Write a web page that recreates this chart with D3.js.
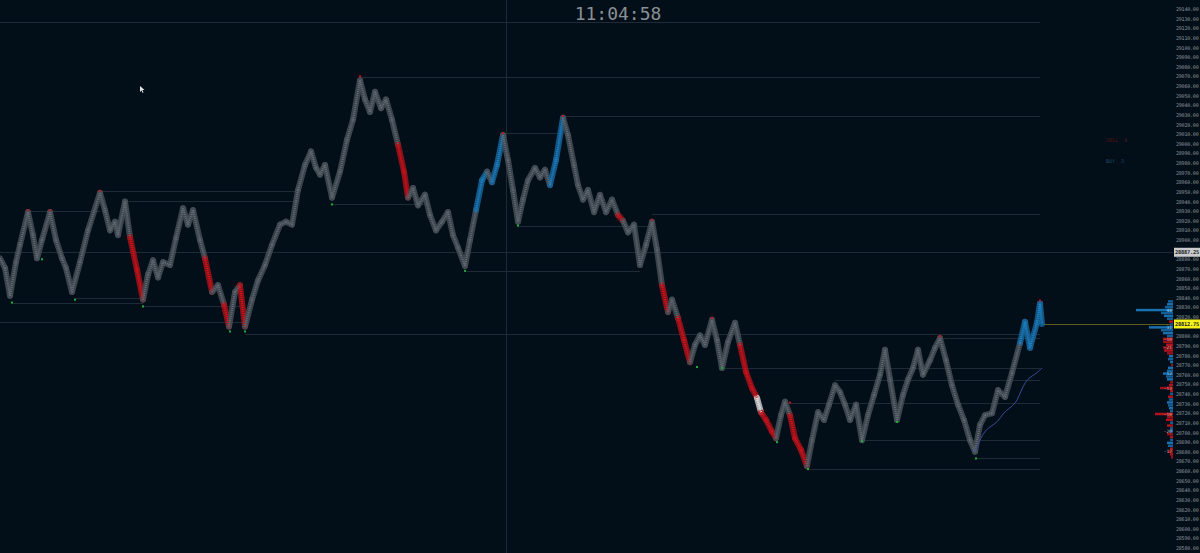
<!DOCTYPE html>
<html>
<head>
<meta charset="utf-8">
<script src="https://cdn.jsdelivr.net/npm/d3@7"></script>
<style>
  body { margin: 0; background: #020f18; overflow: hidden; }
  svg { display: block; }
  .axis text { font-family: "DejaVu Sans Mono", monospace; font-size: 5px; letter-spacing: -0.2px; fill: #8b9299; }
</style>
</head>
<body>
<script>
/* price path: [bar, price, tone] (g=neutral, r=sell run, b=buy run, w=flash) */
const pricePath = [
  [0,28881,"g"],[5,28871,"g"],[10,28842,"g"],[16,28877,"g"],[20,28895,"g"],[28,28929,"g"],[33,28905,"g"],
  [37,28881,"g"],[42,28900,"g"],[50,28929,"g"],[56,28900,"g"],[62,28881,"g"],[66,28871,"g"],[72,28846,"g"],
  [80,28877,"g"],[88,28910,"g"],[100,28949,"g"],[105,28931,"g"],[110,28910,"g"],[115,28919,"g"],[118,28905,"g"],
  [125,28940,"g"],[130,28903,"g"],[137,28869,"r"],[143,28838,"r"],[148,28864,"g"],[153,28879,"g"],[158,28861,"g"],
  [163,28877,"g"],[170,28874,"g"],[176,28902,"g"],[183,28933,"g"],[188,28916,"g"],[193,28931,"g"],[200,28900,"g"],
  [205,28881,"g"],[212,28846,"r"],[218,28853,"g"],[224,28833,"g"],[229,28810,"r"],[235,28846,"g"],[240,28853,"g"],
  [245,28810,"r"],[252,28838,"g"],[258,28858,"g"],[265,28874,"g"],[272,28895,"g"],[280,28916,"g"],[286,28919,"g"],
  [292,28916,"g"],[298,28952,"g"],[305,28978,"g"],[311,28992,"g"],[316,28975,"g"],[320,28968,"g"],[325,28978,"g"],
  [332,28944,"g"],[340,28971,"g"],[347,29004,"g"],[353,29025,"g"],[360,29066,"g"],[365,29046,"g"],[370,29033,"g"],
  [375,29054,"g"],[381,29037,"g"],[386,29046,"g"],[392,29025,"g"],[398,28999,"g"],[404,28971,"r"],[408,28944,"r"],
  [413,28954,"g"],[418,28936,"g"],[425,28947,"g"],[430,28926,"g"],[436,28910,"g"],[442,28919,"g"],[448,28929,"g"],
  [453,28905,"g"],[458,28892,"g"],[465,28873,"g"],[470,28900,"g"],[476,28931,"g"],[482,28962,"b"],[487,28971,"b"],
  [492,28960,"g"],[497,28978,"b"],[503,29009,"b"],[508,28983,"g"],[513,28952,"g"],[518,28919,"g"],[523,28942,"g"],
  [528,28962,"g"],[535,28975,"g"],[540,28965,"g"],[545,28973,"g"],[550,28957,"g"],[556,28983,"b"],[563,29027,"b"],
  [568,29009,"g"],[574,28978,"g"],[578,28957,"g"],[583,28942,"g"],[588,28952,"g"],[594,28929,"g"],[600,28947,"g"],
  [606,28929,"g"],[612,28942,"g"],[618,28926,"g"],[623,28920,"r"],[628,28908,"g"],[634,28916,"g"],[640,28874,"g"],
  [646,28895,"g"],[652,28919,"g"],[657,28890,"g"],[662,28853,"g"],[668,28825,"r"],[672,28838,"g"],[678,28819,"g"],
  [684,28796,"r"],[690,28773,"r"],[695,28791,"g"],[700,28801,"g"],[705,28791,"g"],[712,28817,"g"],[717,28796,"g"],
  [722,28767,"g"],[728,28794,"g"],[735,28814,"g"],[740,28791,"g"],[746,28763,"r"],[752,28746,"r"],[757,28736,"r"],
  [761,28721,"w"],[766,28713,"r"],[772,28701,"r"],[776,28694,"r"],[781,28718,"g"],[785,28732,"g"],[790,28718,"g"],
  [795,28694,"r"],[801,28682,"r"],[807,28665,"r"],[812,28692,"g"],[818,28721,"g"],[824,28713,"g"],[829,28729,"g"],
  [835,28749,"g"],[840,28742,"g"],[845,28729,"g"],[850,28713,"g"],[856,28729,"g"],[862,28692,"g"],[868,28718,"g"],
  [874,28739,"g"],[880,28760,"g"],[885,28786,"g"],[890,28755,"g"],[897,28713,"g"],[903,28739,"g"],[908,28755,"g"],
  [913,28767,"g"],[918,28786,"g"],[923,28760,"g"],[930,28775,"g"],[935,28788,"g"],[940,28798,"g"],[946,28775,"g"],
  [952,28749,"g"],[958,28729,"g"],[964,28713,"g"],[970,28692,"g"],[975,28680,"g"],[980,28708,"g"],[985,28718,"g"],
  [992,28720,"g"],[998,28744,"g"],[1005,28737,"g"],[1012,28762,"g"],[1020,28793,"g"],[1025,28815,"b"],[1030,28788,"b"],
  [1037,28814,"b"],[1040,28834,"b"],[1042,28812.75,"b"]
]

/* swing markers */
const swingHighs = [[28,28931],[50,28931],[100,28951],[360,29070],[503,29011],[563,29029],[652,28921],
                    [712,28819],[790,28731],[940,28800],[1040,28837]]
const swingLows = [[12,28835],[42,28880],[75,28838],[143,28831],[230,28805],[245,28805],[332,28937],[465,28868],
                   [518,28915],[697,28768],[722,28767],[777,28690],[808,28662],[862,28691],[897,28711],[976,28673]]

/* horizontal levels: [fromBar, toBar, price] */
const levels = [[0,1040,29126],[360,1040,29069],[563,1040,29029],[503,563,29011],[100,300,28951],[125,300,28941],
  [28,100,28930],[332,430,28937],[518,652,28915],[652,1040,28927],[465,640,28868],[12,143,28835],[75,143,28840],
  [143,240,28831],[0,245,28815],[245,1040,28802],[940,1040,28798],[722,1040,28767],[835,1040,28755],
  [790,1040,28731],[862,1040,28692],[976,1040,28673],[808,1040,28662]]

/* session vwap */
const vwap = [[975,28680],[983,28700],[990,28706],[998,28711],[1003,28720],[1010,28726],[1017,28731],
              [1025,28755],[1035,28760],[1042,28767]]

/* volume profile, 3-point rows: top price of each row and delta (positive buy, negative sell) */
const profilePrice = [28836,28833,28830,28827,28824,28821,28818,28815,28812,28809,28806,28803,28800,28797,
  28794,28791,28788,28785,28782,28779,28776,28773,28770,28767,28764,28761,28758,28755,28752,28749,28746,
  28743,28740,28737,28734,28731,28728,28725,28722,28719,28716,28713,28710,28707,28704,28701,28698,28695,
  28692,28689,28686,28683,28680,28677,28674]
const profileDelta = [5,6,8,37,12,9,6,-4,3,24,12,10,6,-10,-10,-7,-10,-9,-6,4,5,3,-2,5,6,10,7,6,-3,-4,-13,
  -3,3,-5,4,6,5,4,3,-18,-6,-7,3,-6,3,4,-6,-3,3,6,5,-3,-5,-3,-2]
const profileTags = [[28827,"48"],[28809,"31"],[28797,"-10"],[28788,"-21"],[28761,"12"],[28746,"-13"],
  [28719,"-10"],[28701,"-27"],[28680,"-17"]]

const crossPrice = 28887.25
const lastPrice = 28812.75
const crossBar = 506
const clockText = "11:04:58"
const orderText = [["SELL  4", "#5e1217", 142], ["BUY  3", "#1b4869", 163]]

var W = 1200, H = 553

var x = d3.scaleLinear().domain([0, 1040]).range([0, 1040])
var y = d3.scaleLinear().domain([28580, 29140]).range([548, 9])
var vol = d3.scaleLinear().domain([0, 40]).range([0, 40])
var axisX = 1173

var svg = d3.select("body").append("svg")
  .attr("width", W).attr("height", H)

svg.append("rect").attr("width", W).attr("height", H).attr("fill", "#020f18")

/* crosshair */
svg.append("line")
  .attr("x1", x(crossBar) + 0.5).attr("x2", x(crossBar) + 0.5).attr("y1", 0).attr("y2", H)
  .attr("stroke", "#1c2b36").attr("stroke-width", 1)
svg.append("line")
  .attr("x1", 0).attr("x2", axisX).attr("y1", Math.round(y(crossPrice)) + 0.5).attr("y2", Math.round(y(crossPrice)) + 0.5)
  .attr("stroke", "#1c2b36").attr("stroke-width", 1)

/* level lines */
svg.append("g").selectAll("line")
  .data(levels)
  .enter().append("line")
  .attr("x1", function(d) { return x(d[0]) })
  .attr("x2", function(d) { return x(d[1]) })
  .attr("y1", function(d) { return Math.round(y(d[2])) + 0.5 })
  .attr("y2", function(d) { return Math.round(y(d[2])) + 0.5 })
  .attr("stroke", "#1d2b36").attr("stroke-width", 1)

/* last price line */
svg.append("line")
  .attr("x1", x(1042)).attr("x2", axisX)
  .attr("y1", Math.round(y(lastPrice)) + 0.5).attr("y2", Math.round(y(lastPrice)) + 0.5)
  .attr("stroke", "#5e5e1c").attr("stroke-width", 1)

/* price path, drawn segment by segment with its tone */
var toneColor = { g: "#454d56", r: "#a3121a", b: "#15639a", w: "#c8c8c8" }
var coreColor = { g: "#646c75", r: "#d8141e", b: "#2286c6", w: "#f0f0f0" }
var segs = []
for (var i = 1; i < pricePath.length; i++) {
  segs.push({ a: pricePath[i - 1], b: pricePath[i], t: pricePath[i][2] })
}

var pathG = svg.append("g")
pathG.selectAll("line.band")
  .data(segs)
  .enter().append("line")
  .attr("class", "band")
  .attr("x1", function(d) { return x(d.a[0]) })
  .attr("y1", function(d) { return y(d.a[1]) })
  .attr("x2", function(d) { return x(d.b[0]) })
  .attr("y2", function(d) { return y(d.b[1]) })
  .attr("stroke", function(d) { return toneColor[d.t] })
  .attr("stroke-width", 6)
  .attr("stroke-linecap", "round")
  .attr("opacity", 0.85)

pathG.selectAll("line.core")
  .data(segs)
  .enter().append("line")
  .attr("class", "core")
  .attr("x1", function(d) { return x(d.a[0]) })
  .attr("y1", function(d) { return y(d.a[1]) })
  .attr("x2", function(d) { return x(d.b[0]) })
  .attr("y2", function(d) { return y(d.b[1]) })
  .attr("stroke", function(d) { return coreColor[d.t] })
  .attr("stroke-width", 2.2)
  .attr("stroke-dasharray", "1 1")
  .attr("stroke-linecap", "butt")

/* vwap */
svg.append("path")
  .datum(vwap)
  .attr("d", d3.line().x(function(d) { return x(d[0]) }).y(function(d) { return y(d[1]) }).curve(d3.curveBasis))
  .attr("fill", "none").attr("stroke", "#3a4c9c").attr("stroke-width", 1)

/* swing dots */
svg.append("g").selectAll("rect")
  .data(swingHighs)
  .enter().append("rect")
  .attr("x", function(d) { return x(d[0]) - 1 })
  .attr("y", function(d) { return y(d[1]) - 1 })
  .attr("width", 2).attr("height", 2)
  .attr("fill", "#c4161d")
svg.append("g").selectAll("rect")
  .data(swingLows)
  .enter().append("rect")
  .attr("x", function(d) { return x(d[0]) - 1 })
  .attr("y", function(d) { return y(d[1]) - 1 })
  .attr("width", 2).attr("height", 2)
  .attr("fill", "#1fae3a")

/* volume profile */
var rowH = y(0) - y(3)
var prof = profilePrice.map(function(p, i) { return { p: p, v: profileDelta[i] } })
svg.append("g").selectAll("rect")
  .data(prof)
  .enter().append("rect")
  .attr("x", function(d) { return axisX - vol(Math.abs(d.v)) })
  .attr("y", function(d) { return y(d.p) - rowH / 2 })
  .attr("width", function(d) { return vol(Math.abs(d.v)) })
  .attr("height", rowH - 0.4)
  .attr("fill", function(d, i) {
    if (d.v > 0) return i % 2 ? "#1a6fae" : "#155f98"
    return i % 2 ? "#b3141c" : "#9a1119"
  })
svg.append("g").selectAll("text")
  .data(profileTags)
  .enter().append("text")
  .attr("x", axisX - 1)
  .attr("y", function(d) { return y(d[0]) + 1.6 })
  .attr("text-anchor", "end")
  .attr("font-family", "DejaVu Sans Mono, monospace")
  .attr("font-size", 4.5)
  .attr("fill", function(d) { return d[1][0] == "-" ? "#f2a6a6" : "#8fd0f5" })
  .text(function(d) { return d[1] })

/* price axis, skipping labels hidden behind the flags */
var ticks = d3.range(28580, 29141, 10).filter(function(t) {
  return Math.abs(y(t) - y(crossPrice)) > 5 && Math.abs(y(t) - y(lastPrice)) > 5
})
var axis = d3.axisRight(y)
  .tickValues(ticks)
  .tickFormat(d3.format(".2f"))
  .tickSize(0)
  .tickPadding(3)
var ax = svg.append("g")
  .attr("class", "axis")
  .attr("transform", "translate(" + axisX + ",0)")
  .call(axis)
ax.select(".domain").remove()

/* price flags */
function flag(price, bg, fg) {
  var g = svg.append("g")
  g.append("rect")
    .attr("x", axisX + 1).attr("y", y(price) - 4.5)
    .attr("width", 26).attr("height", 9).attr("fill", bg)
  g.append("text")
    .attr("x", axisX + 2).attr("y", y(price) + 2)
    .attr("font-family", "DejaVu Sans Mono, monospace").attr("font-size", 5.3)
    .attr("font-weight", "bold").attr("letter-spacing", "-0.2px")
    .attr("fill", fg).text(d3.format(".2f")(price))
}
flag(crossPrice, "#c9cbcc", "#1a1f24")
flag(lastPrice, "#f4f01a", "#1a1f24")

/* order counters */
svg.append("g").selectAll("text")
  .data(orderText)
  .enter().append("text")
  .attr("x", 1106).attr("y", function(d) { return d[2] })
  .attr("font-family", "DejaVu Sans Mono, monospace").attr("font-size", 5)
  .attr("fill", function(d) { return d[1] })
  .attr("xml:space", "preserve")
  .text(function(d) { return d[0] })

/* clock */
svg.append("text")
  .attr("x", 618).attr("y", 20)
  .attr("text-anchor", "middle")
  .attr("font-family", "DejaVu Sans Mono, monospace")
  .attr("font-size", 18)
  .attr("fill", "#8a8f94")
  .text(clockText)

/* mouse pointer */
svg.append("path")
  .attr("d", "M140,86 l0,6 l1.5,-1.5 l1.2,2.4 l0.8,-0.4 l-1.2,-2.4 l2.2,0 z")
  .attr("fill", "#e8e8e8")
</script>
</body>
</html>
